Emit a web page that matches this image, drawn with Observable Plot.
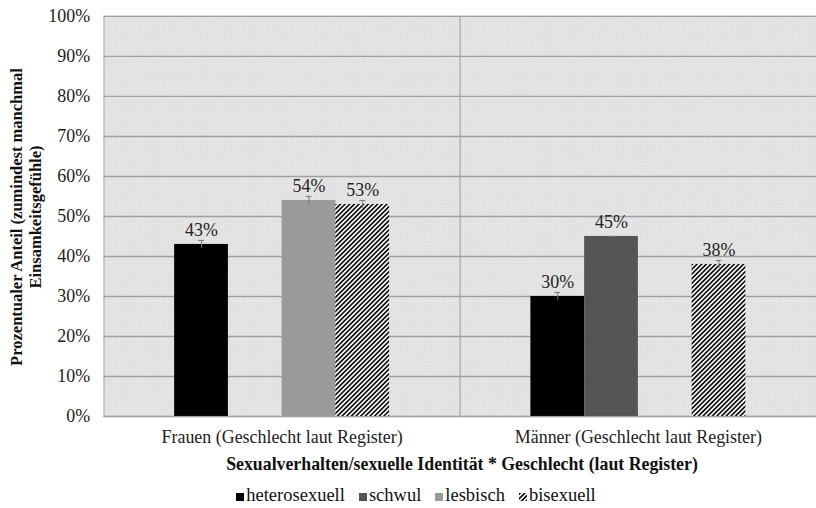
<!DOCTYPE html>
<html>
<head>
<meta charset="utf-8">
<script src="https://cdn.jsdelivr.net/npm/d3@7"></script>
<script src="https://cdn.jsdelivr.net/npm/@observablehq/plot@0.6"></script>
<style>
  body { margin: 0; background: #fff; font-family: "Liberation Serif", "DejaVu Serif", serif; }
  #wrap { position: relative; width: 816px; height: 508px; overflow: hidden; }
  #ylab { position: absolute; left: 26px; top: 217px; transform: translate(-50%, -50%) rotate(-90deg);
          white-space: nowrap; text-align: center; font-weight: bold; font-size: 16.5px; line-height: 19px; color: #111; }
  #xtitle { position: absolute; left: 104px; width: 716px; top: 454px; text-align: center;
            font-weight: bold; font-size: 17.8px; color: #111; }
  #legend { position: absolute; left: 0; width: 832px; top: 485px; text-align: center; font-size: 18.5px; color: #111; }
  #legend span.item { margin: 0 7px; white-space: nowrap; }
  #legend svg { vertical-align: 0px; margin-right: 2px; }
</style>
</head>
<body>
<div id="wrap">
  <div id="chart"></div>
  <div id="ylab">Prozentualer Anteil (zumindest manchmal<br>Einsamkeitsgefühle)</div>
  <div id="xtitle">Sexualverhalten/sexuelle Identität * Geschlecht (laut Register)</div>
  <div id="legend"></div>
</div>
<script>
const genders = ["Frauen (Geschlecht laut Register)", "Männer (Geschlecht laut Register)"];
const categories = ["heterosexuell", "schwul", "lesbisch", "bisexuell"];
const fills = ["#000000", "#555555", "#9a9a9a", "url(#hatch)"];
// values per gender (null = no bar)
const frauenValues = [0.43, null, 0.54, 0.53];
const maennerValues = [0.30, 0.45, null, 0.38];
const frauenErr = [0.01, null, 0.01, 0.01];
const maennerErr = [0.01, null, null, 0.01];
const yTicks = [0, 0.1, 0.2, 0.3, 0.4, 0.5, 0.6, 0.7, 0.8, 0.9, 1.0];

const data = [];
[[frauenValues, frauenErr], [maennerValues, maennerErr]].forEach(([vals, errs], gi) => {
  vals.forEach((v, ci) => {
    if (v != null) data.push({gender: genders[gi], cat: categories[ci], value: v, err: errs[ci] || 0, fill: fills[ci]});
  });
});

const fmt = d3.format(".0%");

const plot = Plot.plot({
  width: 820,
  height: 450,
  marginLeft: 104,
  marginRight: 0,
  marginTop: 16,
  marginBottom: 32,
  style: {fontFamily: "Liberation Serif, serif", fontSize: "18px", color: "#222", background: "transparent"},
  fx: {domain: genders, padding: 0, axis: "bottom", label: null, tickSize: 0, tickPadding: 14},
  x: {domain: categories, axis: null, paddingInner: 0, paddingOuter: 1.31},
  y: {domain: [0, 1], ticks: yTicks, tickFormat: fmt, tickSize: 0, tickPadding: 14, label: null},
  marks: [
    Plot.frame({fill: "url(#bg)", stroke: "#b0b0b0", strokeWidth: 1.2}),
    Plot.gridY(yTicks, {stroke: "#a0a0a0", strokeOpacity: 1, strokeWidth: 1.4}),
    ...categories.map((c, i) => Plot.barY(data.filter(d => d.cat === c), {
      fx: "gender", x: "cat", y: "value", fill: fills[i]
    })),
    Plot.ruleX(data, {fx: "gender", x: "cat", y1: d => d.value - d.err, y2: d => d.value + d.err, stroke: "#777", strokeWidth: 1}),
    Plot.tickY(data, {fx: "gender", x: "cat", y: d => d.value + d.err, stroke: "#777", strokeWidth: 1, inset: 24}),
    Plot.text(data, {fx: "gender", x: "cat", y: "value", text: d => fmt(d.value), dy: -14, fontSize: 18, fill: "#222"})
  ]
});

// patterns
const ns = "http://www.w3.org/2000/svg";
const defs = document.createElementNS(ns, "defs");
defs.innerHTML = `
  <pattern id="hatch" patternUnits="userSpaceOnUse" width="3.3" height="3.3" patternTransform="rotate(45)">
    <rect width="3.3" height="3.3" fill="#ffffff"/>
    <rect width="1.7" height="3.3" fill="#111111"/>
  </pattern>
  <pattern id="bg" patternUnits="userSpaceOnUse" width="3" height="3">
    <rect width="3" height="3" fill="#e6e6e6"/>
    <rect width="1" height="1" fill="#d4d4d4"/>
    <rect x="1.5" y="1.5" width="1" height="1" fill="#dadada"/>
  </pattern>`;
plot.insertBefore(defs, plot.firstChild);
document.getElementById("chart").appendChild(plot);

// legend
const legend = document.getElementById("legend");
categories.forEach((c, i) => {
  const item = document.createElement("span");
  item.className = "item";
  item.innerHTML = `<svg width="8" height="8"><rect width="8" height="8" fill="${fills[i]}"/></svg>${c}`;
  legend.appendChild(item);
});
</script>
</body>
</html>
